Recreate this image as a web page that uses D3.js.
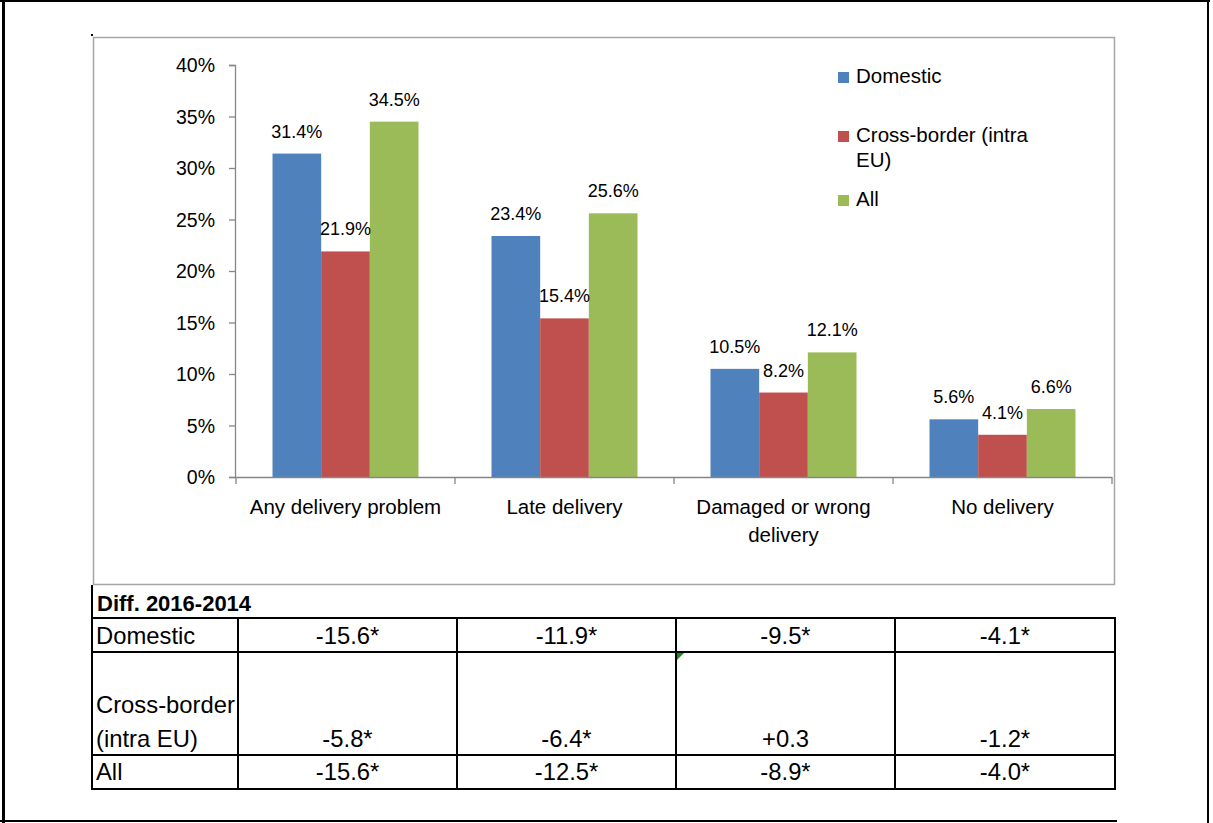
<!DOCTYPE html>
<html><head><meta charset="utf-8">
<script src="https://cdn.jsdelivr.net/npm/d3@7"></script>
<style>body{margin:0;background:#fff}svg{display:block}text{font-family:"Liberation Sans",Arial,sans-serif;fill:#000}</style>
</head><body><svg id="c" width="1213" height="823"></svg>
<script>
const categories = [["Any delivery problem"],["Late delivery"],["Damaged or wrong","delivery"],["No delivery"]];
const seriesNames = [["Domestic"],["Cross-border (intra","EU)"],["All"]];
const seriesColors = ["#4F81BD","#C0504D","#9BBB59"];
const domestic = [31.4,23.4,10.5,5.6];
const crossBorder = [21.9,15.4,8.2,4.1];
const allSeries = [34.5,25.6,12.1,6.6];
const yTicks = [0,5,10,15,20,25,30,35,40];
const tableTitle = "Diff. 2016-2014";
const tableRowLabels = [["Domestic"],["Cross-border","(intra EU)"],["All"]];
const diffDomestic = ["-15.6*","-11.9*","-9.5*","-4.1*"];
const diffCross = ["-5.8*","-6.4*","+0.3","-1.2*"];
const diffAll = ["-15.6*","-12.5*","-8.9*","-4.0*"];

const svg = d3.select("#c");
// outer frame
svg.append("rect").attr("x",0).attr("y",0).attr("width",1210).attr("height",2).attr("fill","#000");
svg.append("rect").attr("x",2).attr("y",0).attr("width",3).attr("height",823).attr("fill","#000");
svg.append("rect").attr("x",1207).attr("y",0).attr("width",2).attr("height",823).attr("fill","#000");
svg.append("rect").attr("x",0).attr("y",820).attr("width",1117).attr("height",2).attr("fill","#000");
// plot area border
svg.append("rect").attr("x",93.5).attr("y",37.5).attr("width",1021).attr("height",547)
  .attr("fill","none").attr("stroke","#a6a6a6").attr("stroke-width",1.5);
svg.append("rect").attr("x",91).attr("y",34).attr("width",2).attr("height",2).attr("fill","#000");

const values = [domestic, crossBorder, allSeries];
const catIdx = d3.range(categories.length);
const x = d3.scaleBand().domain(catIdx).range([236,1112]).paddingInner(0).paddingOuter(0);
const x1 = d3.scaleBand().domain(d3.range(3)).range([0,x.bandwidth()]).paddingInner(0).paddingOuter(0.75);
const y = d3.scaleLinear().domain([0,40]).range([477,65]);

// y axis
const yAxis = svg.append("g").attr("transform","translate(235,0)")
  .call(d3.axisLeft(y).tickValues(yTicks).tickSize(6).tickPadding(14).tickFormat(d=>d+"%"));
yAxis.select(".domain").attr("stroke","#868686").attr("stroke-width",1.3).attr("d","M-6,65.5H0.5V477.5H-6");
yAxis.selectAll(".tick line").attr("stroke","#868686").attr("stroke-width",1.3);
yAxis.selectAll(".tick text").style("font-family","Liberation Sans, Arial").style("font-size","19.5px").attr("fill","#000").attr("dy","0.35em");

// bars
const groups = svg.append("g").selectAll("g").data(catIdx).join("g").attr("transform",i=>`translate(${x(i)},0)`);
groups.selectAll("rect").data(i=>values.map((s,k)=>({k,v:s[i]}))).join("rect")
  .attr("x",d=>x1(d.k)).attr("width",x1.bandwidth()).attr("y",d=>y(d.v)).attr("height",d=>y(0)-y(d.v))
  .attr("fill",d=>seriesColors[d.k]);
groups.selectAll("text.lab").data(i=>values.map((s,k)=>({k,v:s[i]}))).join("text").attr("class","lab")
  .attr("x",d=>x1(d.k)+x1.bandwidth()/2).attr("y",d=>y(d.v)-16).attr("text-anchor","middle")
  .style("font-size","18px").text(d=>d.v.toFixed(1)+"%");

// x axis
const xa = svg.append("g");
xa.append("line").attr("x1",235).attr("x2",1112).attr("y1",477.5).attr("y2",477.5).attr("stroke","#868686").attr("stroke-width",1.3);
xa.selectAll("line.t").data(d3.range(categories.length+1)).join("line").attr("class","t")
  .attr("x1",i=>236+i*x.bandwidth()).attr("x2",i=>236+i*x.bandwidth()).attr("y1",477).attr("y2",484)
  .attr("stroke","#868686").attr("stroke-width",1.3);
catIdx.forEach(i=>{
  categories[i].forEach((ln,j)=>{
    xa.append("text").attr("x",x(i)+x.bandwidth()/2).attr("y",514+j*28).attr("text-anchor","middle")
      .style("font-size","20.5px").text(ln);
  });
});

// legend
const legY = [72,131,195];
seriesNames.forEach((nm,k)=>{
  svg.append("rect").attr("x",838).attr("y",legY[k]).attr("width",11).attr("height",11).attr("fill",seriesColors[k]);
  nm.forEach((ln,j)=>svg.append("text").attr("x",856).attr("y",legY[k]+11+j*25).style("font-size","20.5px").text(ln));
});

// table
const colX = [92,238,457,676,895,1115];
const rowY = [618,652,755,789];
const tg = svg.append("g");
tg.append("text").attr("x",97).attr("y",611).style("font-size","22px").style("font-weight","bold").text(tableTitle);
tg.append("line").attr("x1",92).attr("x2",92).attr("y1",585).attr("y2",790).attr("stroke","#000").attr("stroke-width",2);
rowY.forEach(yy=>tg.append("line").attr("x1",91).attr("x2",1116).attr("y1",yy).attr("y2",yy).attr("stroke","#000").attr("stroke-width",2));
colX.slice(1).forEach(xx=>tg.append("line").attr("x1",xx).attr("x2",xx).attr("y1",rowY[0]).attr("y2",rowY[3]).attr("stroke","#000").attr("stroke-width",2));
const diffRows = [diffDomestic, diffCross, diffAll];
const baseY = [644,747,780];
tableRowLabels.forEach((lbl,r)=>{
  lbl.forEach((ln,j)=>tg.append("text").attr("x",96).attr("y",baseY[r]-(lbl.length-1-j)*34).style("font-size","23.8px").text(ln));
  diffRows[r].forEach((v,c)=>tg.append("text").attr("x",(colX[c+1]+colX[c+2])/2).attr("y",baseY[r])
    .attr("text-anchor","middle").style("font-size","23.8px").text(v));
});
// green indicator triangle
tg.append("path").attr("d","M677,653 L684,653 L677,660 Z").attr("fill","#1a8c1a");
</script></body></html>
